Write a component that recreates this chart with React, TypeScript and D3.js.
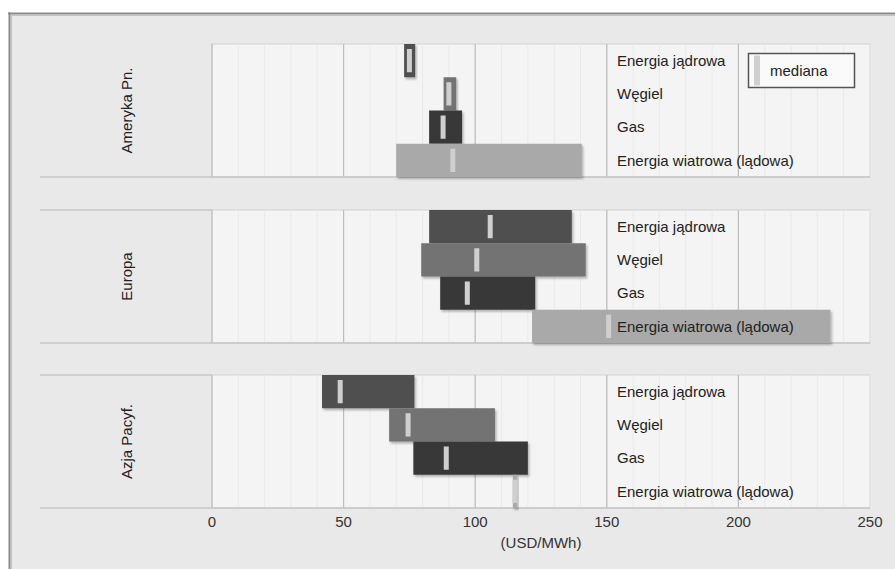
import React from "react";
import * as d3 from "d3";

const regions = ["Ameryka Pn.", "Europa", "Azja Pacyf."];
const technologies = ["Energia jądrowa", "Węgiel", "Gas", "Energia wiatrowa (lądowa)"];
const techColors = ["#505050", "#737373", "#383838", "#a9a9a9"];

// [nuclear, coal, gas, wind] per region
const minValues = [
  [73, 88, 82.5, 70],
  [82.5, 79.5, 86.7, 121.6],
  [41.8, 67.3, 76.5, 114.3],
];
const maxValues = [
  [77.2, 92.8, 95, 140.5],
  [136.7, 142, 122.8, 235],
  [76.9, 107.5, 120, 116],
];
const medianValues = [
  [75, 90, 87.8, 91.5],
  [105.7, 100.6, 97, 150.7],
  [48.7, 74.5, 89, 115.1],
];
const xTicks = [0, 50, 100, 150, 200, 250];
const axisTitle = "(USD/MWh)";
const legendLabel = "mediana";

const W = 895;
const H = 569;
const FONT = "'Liberation Sans', Arial, sans-serif";

export default function App() {
  const x = d3.scaleLinear().domain([0, 250]).range([212, 870]);
  const panelTops = [44, 210, 375];
  const panelH = 133;
  const minor = d3.range(0, 251, 10);

  return (
    <div style={{ position: "absolute", left: 0, top: 0 }}>
      <svg width={W} height={H} style={{ display: "block", fontFamily: FONT }}>
        <defs>
          <filter id="sh" x="-10%" y="-10%" width="130%" height="140%">
            <feDropShadow dx="1.5" dy="2" stdDeviation="1.2" floodColor="#000" floodOpacity="0.28" />
          </filter>
        </defs>
        <rect x={0} y={0} width={W} height={H} fill="#ffffff" />
        <rect x={9} y={13} width={W} height={H} fill="#e9e9e9" />
        <line x1={8} x2={W} y1={13.5} y2={13.5} stroke="#8a8a8a" strokeWidth={2} />
        <line x1={11} x2={W} y1={15.5} y2={15.5} stroke="#c4c4c4" strokeWidth={1} />
        <line x1={9.5} x2={9.5} y1={12.5} y2={H} stroke="#8a8a8a" strokeWidth={2} />
        <line x1={11.5} x2={11.5} y1={15} y2={H} stroke="#c4c4c4" strokeWidth={1} />

        {regions.map((region, ri) => {
          const top = panelTops[ri];
          const y = d3.scaleBand<string>().domain(technologies).range([top, top + panelH]).padding(0);
          return (
            <g key={region}>
              <rect x={x(0)} y={top} width={x(250) - x(0)} height={panelH} fill="#f4f4f4" stroke="#d2d2d2" strokeWidth={1} />
              {minor.map((m) => (
                <line key={"m" + m} x1={x(m)} x2={x(m)} y1={top} y2={top + panelH} stroke="#e9e9e9" strokeWidth={1} />
              ))}
              {xTicks.slice(0, 5).map((t) => (
                <line key={"t" + t} x1={x(t)} x2={x(t)} y1={top} y2={top + panelH} stroke="#bcbcbc" strokeWidth={1.2} />
              ))}
              {ri > 0 && <line x1={40} x2={x(0)} y1={top} y2={top} stroke="#c6c6c6" strokeWidth={1.5} />}
              <line x1={40} x2={x(250)} y1={top + panelH} y2={top + panelH} stroke="#c6c6c6" strokeWidth={1.5} />
              <text
                transform={`translate(${132},${top + panelH / 2}) rotate(-90)`}
                textAnchor="middle"
                fontSize={15}
                fill="#222"
              >
                {region}
              </text>
              {technologies.map((tech, ti) => {
                const y0 = y(tech)!;
                const bh = y.bandwidth();
                const x0 = x(minValues[ri][ti]);
                const x1 = x(maxValues[ri][ti]);
                const xm = x(medianValues[ri][ti]);
                return (
                  <g key={tech}>
                    <rect x={x0} y={y0} width={x1 - x0} height={bh} fill={techColors[ti]} filter="url(#sh)" />
                    <rect x={xm - 2.5} y={y0 + 5} width={5} height={bh - 10} fill="#cfcfcf" />
                  </g>
                );
              })}
              {technologies.map((tech) => (
                <text
                  key={"l" + tech}
                  x={617}
                  y={y(tech)! + y.bandwidth() / 2}
                  dy="0.35em"
                  fontSize={15}
                  fill="#222"
                >
                  {tech}
                </text>
              ))}
            </g>
          );
        })}

        <rect x={748.5} y={53.5} width={106} height={34} fill="#fafafa" stroke="#555" strokeWidth={1.5} />
        <rect x={754} y={55.5} width={6} height={30} fill="#cfcfcf" />
        <text x={770} y={70.5} dy="0.35em" fontSize={15} fill="#222">
          {legendLabel}
        </text>

        {xTicks.map((t) => (
          <text key={"xt" + t} x={x(t)} y={522} dy="0.35em" textAnchor="middle" fontSize={15} fill="#333">
            {t}
          </text>
        ))}
        <text x={x(125)} y={543} dy="0.35em" textAnchor="middle" fontSize={15} fill="#333">
          {axisTitle}
        </text>
      </svg>
    </div>
  );
}
